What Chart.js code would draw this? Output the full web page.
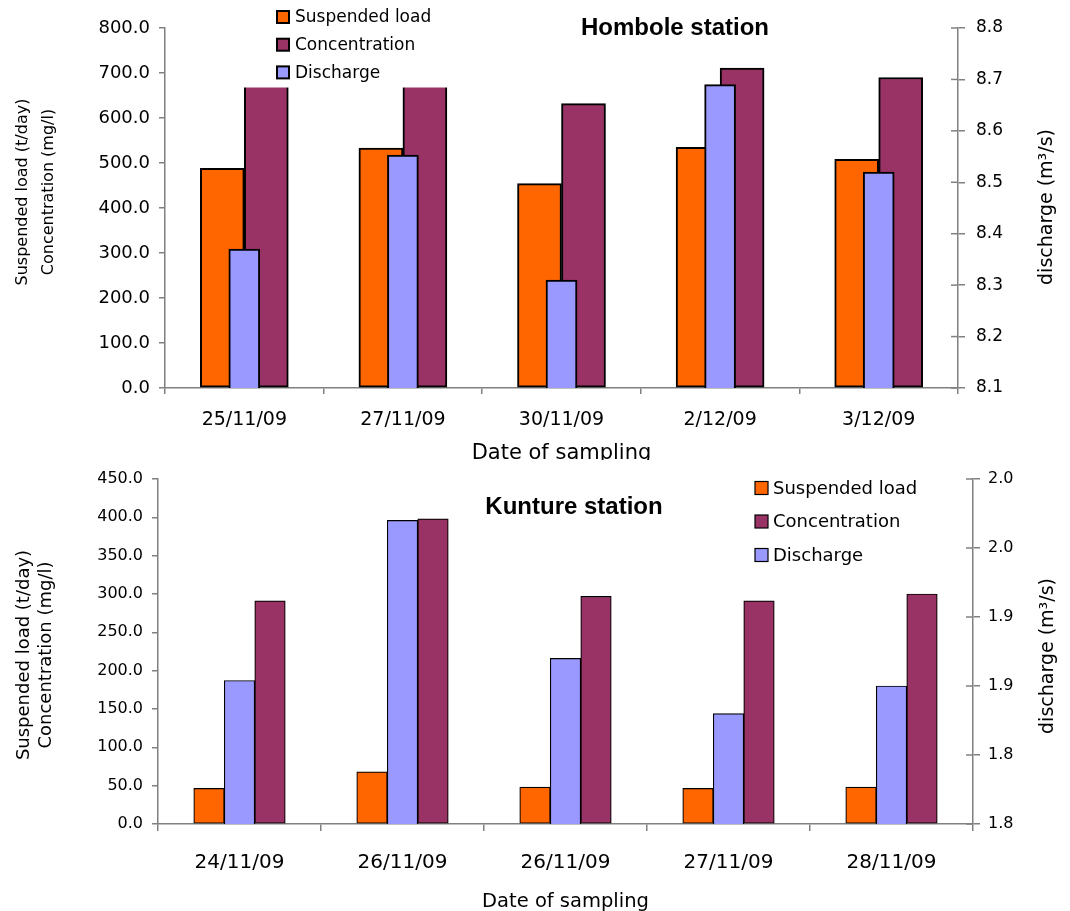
<!DOCTYPE html>
<html>
<head>
<meta charset="utf-8">
<title>Hombole and Kunture stations</title>
<script src="https://cdn.jsdelivr.net/npm/chart.js@4.4.1/dist/chart.umd.min.js"></script>
<style>
  html, body { margin: 0; padding: 0; background: #fff; }
  canvas { display: block; }
</style>
</head>
<body>
<canvas id="hombole" width="1070" height="460"></canvas>
<canvas id="kunture" width="1070" height="451"></canvas>
<script>
// Hombole station
const homboleDates = ['25/11/09', '27/11/09', '30/11/09', '2/12/09', '3/12/09'];
const homboleLoad = [488, 533, 454, 535, 508];
const homboleConc = [735, 745, 632, 711, 690]; // first two run up behind the legend
const homboleDischarge = [8.37, 8.553, 8.31, 8.69, 8.52];

// Kunture station
const kuntureDates = ['24/11/09', '26/11/09', '26/11/09', '27/11/09', '28/11/09'];
const kuntureLoad = [46.5, 68, 48, 46.5, 48];
const kuntureConc = [291, 398, 297, 291, 300];
const kuntureDischarge = [1.854, 1.97, 1.87, 1.83, 1.85];
const kuntureDischargeTicks = ['1.8', '1.8', '1.9', '1.9', '2.0', '2.0'];

const ORANGE = '#FF6600';
const MAROON = '#993366';
const LILAC = '#9999FF';
const AXIS = '#808080';
const FONT = 'DejaVu Sans';

// Titles, legend and the inner half of the right-hand ticks
const annotations = {
    id: 'annotations',
    afterDraw(chart, args, o) {
        const ctx = chart.ctx;
        const area = chart.chartArea;
        ctx.save();

        // legend sits on a white box that hides the bar tops behind it
        if (o.clear) {
            ctx.fillStyle = '#fff';
            ctx.fillRect(o.clear[0], o.clear[1], o.clear[2], o.clear[3]);
        }

        // right axis ticks cross the axis line
        const y1 = chart.scales.y1;
        ctx.strokeStyle = AXIS;
        ctx.lineWidth = 1.5;
        y1.ticks.forEach((t, i) => {
            const py = y1.getPixelForTick(i);
            ctx.beginPath();
            ctx.moveTo(area.right - 7, py);
            ctx.lineTo(area.right, py);
            ctx.stroke();
        });

        ctx.fillStyle = '#000';
        ctx.textAlign = 'center';
        ctx.textBaseline = 'alphabetic';

        // station title
        ctx.font = o.titleFont;
        ctx.fillText(o.title, o.titleX, o.titleY);

        // x axis title
        ctx.font = o.xTitleFont;
        ctx.fillText(o.xTitle, (area.left + area.right) / 2, o.xTitleY);

        // left axis title, two rotated lines
        ctx.textBaseline = 'middle';
        ctx.font = o.yTitleFont;
        o.yTitle.forEach((line, i) => {
            ctx.save();
            ctx.translate(o.yTitleX[i], o.yTitleY);
            ctx.rotate(-Math.PI / 2);
            ctx.fillText(line, 0, 0);
            ctx.restore();
        });

        // right axis title
        ctx.font = o.y1TitleFont;
        ctx.save();
        ctx.translate(o.y1TitleX, o.y1TitleY);
        ctx.rotate(-Math.PI / 2);
        ctx.fillText(o.y1Title, 0, 0);
        ctx.restore();

        // legend, in dataset order
        ctx.font = o.legendFont;
        ctx.textAlign = 'left';
        const b = o.legendBox;
        chart.data.datasets.forEach((ds, i) => {
            const cy = o.legendY + i * o.legendRow;
            ctx.fillStyle = ds.backgroundColor;
            ctx.fillRect(o.legendX, cy - b / 2, b, b);
            ctx.strokeStyle = '#000';
            ctx.lineWidth = o.legendLine;
            ctx.strokeRect(o.legendX, cy - b / 2, b, b);
            ctx.fillStyle = '#000';
            ctx.fillText(ds.label, o.legendX + b + o.legendGap, cy + 1);
        });

        ctx.restore();
    }
};

function tickFont(size) {
    return { family: FONT, size: size, lineHeight: 1.2 };
}

// Function to build the shared axis set
function buildScales(s) {
    return {
        x: {
            grid: { display: true, drawOnChartArea: false, color: AXIS, lineWidth: 1.5, tickLength: s.xTick, offset: true },
            border: { color: AXIS, width: 1.5 },
            ticks: { font: tickFont(s.xFont), color: '#000', padding: s.xPad, maxRotation: 0, autoSkip: false },
            afterFit: scale => { scale.height = s.xHeight; }
        },
        y: {
            position: 'left',
            min: s.yMin, max: s.yMax,
            grid: { display: true, drawOnChartArea: false, color: AXIS, lineWidth: 1.5, tickLength: 6 },
            border: { color: AXIS, width: 1.5 },
            ticks: { stepSize: s.yStep, font: tickFont(s.yFont), color: '#000', padding: 9, callback: v => v.toFixed(1) },
            afterFit: scale => { scale.width = s.yWidth; }
        },
        y1: {
            position: 'right',
            min: s.y1Min, max: s.y1Max,
            grid: { display: true, drawOnChartArea: false, color: AXIS, lineWidth: 1.5, tickLength: 7 },
            border: { color: AXIS, width: 1.5 },
            ticks: { stepSize: s.y1Step, font: tickFont(s.y1Font), color: '#000', padding: s.y1Pad, callback: s.y1Label },
            afterFit: scale => { scale.width = s.y1Width; }
        }
    };
}

new Chart(document.getElementById('hombole'), {
    type: 'bar',
    data: {
        labels: homboleDates,
        datasets: [
            { label: 'Suspended load', data: homboleLoad, backgroundColor: ORANGE, yAxisID: 'y', order: 1, barThickness: 44 },
            { label: 'Concentration', data: homboleConc, backgroundColor: MAROON, yAxisID: 'y', order: 1, barThickness: 44 },
            { label: 'Discharge', data: homboleDischarge, backgroundColor: LILAC, yAxisID: 'y1', order: 0, grouped: false, barThickness: 31 }
        ]
    },
    options: {
        responsive: false,
        animation: false,
        devicePixelRatio: 1,
        layout: { padding: { top: 28, left: 0, right: 0, bottom: 0 } },
        datasets: { bar: { borderColor: '#000', borderWidth: 2, borderSkipped: false } },
        plugins: {
            legend: { display: false },
            tooltip: { enabled: false },
            annotations: {
                clear: [240, 0, 230, 87.5],
                title: 'Hombole station', titleFont: 'bold 24px "Liberation Sans"', titleX: 675, titleY: 35,
                xTitle: 'Date of sampling', xTitleFont: '21px "' + FONT + '"', xTitleY: 459,
                yTitle: ['Suspended load (t/day)', 'Concentration (mg/l)'], yTitleFont: '16px "' + FONT + '"',
                yTitleX: [22.5, 48.5], yTitleY: 192,
                y1Title: 'discharge (m³/s)', y1TitleFont: '19px "' + FONT + '"', y1TitleX: 1047, y1TitleY: 207,
                legendX: 277, legendY: 17, legendRow: 27.7, legendBox: 12, legendLine: 2, legendGap: 6,
                legendFont: '17px "' + FONT + '"'
            }
        },
        scales: buildScales({
            xTick: 6, xFont: 19, xPad: 15, xHeight: 72,
            yMin: 0, yMax: 800, yStep: 100, yFont: 18, yWidth: 165,
            y1Min: 8.1, y1Max: 8.8, y1Step: 0.1, y1Font: 17, y1Pad: 11, y1Width: 112,
            y1Label: v => v.toFixed(1)
        })
    },
    plugins: [annotations]
});

new Chart(document.getElementById('kunture'), {
    type: 'bar',
    data: {
        labels: kuntureDates,
        datasets: [
            { label: 'Suspended load', data: kuntureLoad, backgroundColor: ORANGE, yAxisID: 'y', order: 1 },
            { label: 'Concentration', data: kuntureConc, backgroundColor: MAROON, yAxisID: 'y', order: 3 },
            { label: 'Discharge', data: kuntureDischarge, backgroundColor: LILAC, yAxisID: 'y1', order: 2 }
        ]
    },
    options: {
        responsive: false,
        animation: false,
        devicePixelRatio: 1,
        layout: { padding: { top: 19, left: 0, right: 0, bottom: 0 } },
        datasets: { bar: { borderColor: '#000', borderWidth: 1.2, borderSkipped: false, barThickness: 30.5 } },
        plugins: {
            legend: { display: false },
            tooltip: { enabled: false },
            annotations: {
                title: 'Kunture station', titleFont: 'bold 24px "Liberation Sans"', titleX: 574, titleY: 54,
                xTitle: 'Date of sampling', xTitleFont: '19.5px "' + FONT + '"', xTitleY: 447,
                yTitle: ['Suspended load (t/day)', 'Concentration (mg/l)'], yTitleFont: '18px "' + FONT + '"',
                yTitleX: [24, 46.5], yTitleY: 195,
                y1Title: 'discharge (m³/s)', y1TitleFont: '19px "' + FONT + '"', y1TitleX: 1048, y1TitleY: 196,
                legendX: 755, legendY: 28, legendRow: 33.5, legendBox: 13, legendLine: 1.2, legendGap: 5,
                legendFont: '18px "' + FONT + '"'
            }
        },
        scales: buildScales({
            xTick: 7, xFont: 20, xPad: 20, xHeight: 87,
            yMin: 0, yMax: 450, yStep: 50, yFont: 16, yWidth: 158,
            y1Min: 1.75, y1Max: 2.0, y1Step: 0.05, y1Font: 16, y1Pad: 8, y1Width: 97,
            y1Label: (v, i) => kuntureDischargeTicks[i]
        })
    },
    plugins: [annotations]
});
</script>
</body>
</html>
